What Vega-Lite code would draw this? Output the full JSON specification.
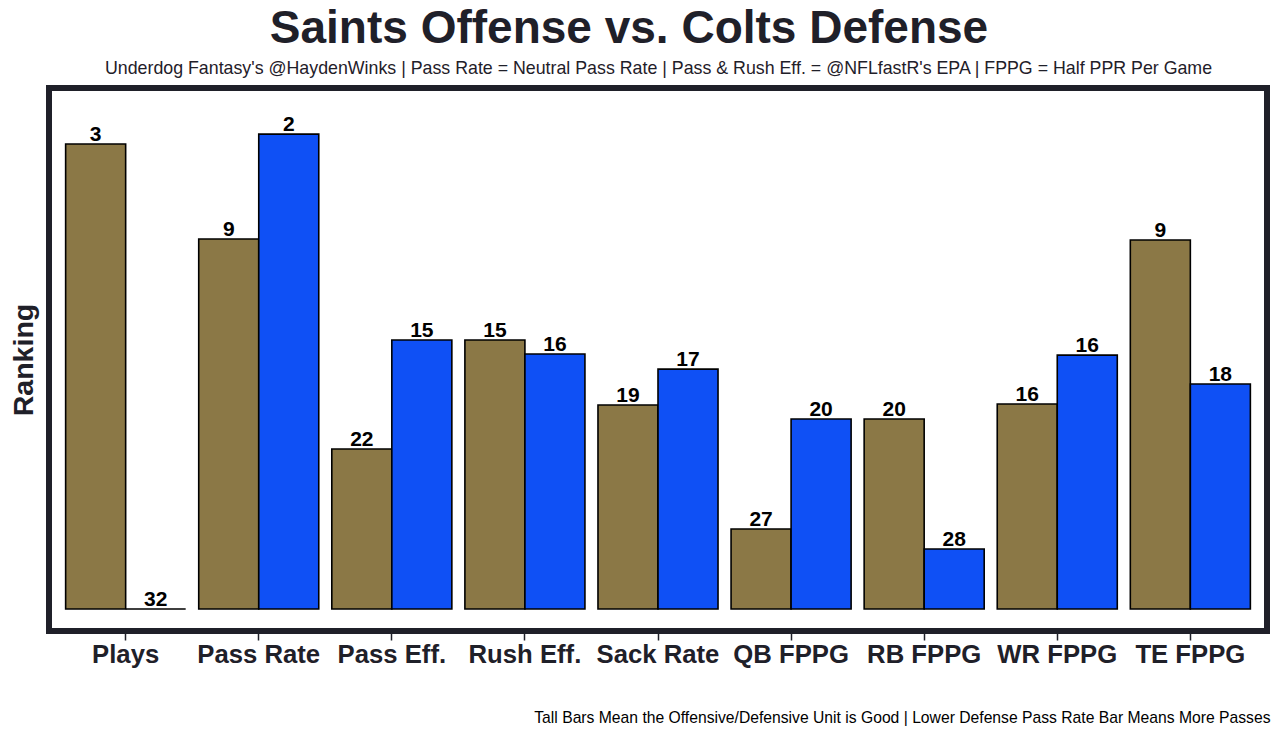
{
  "$schema": "https://vega.github.io/schema/vega-lite/v6.json",
  "width": 1218,
  "height": 543,
  "autosize": {"type": "none"},
  "padding": {"left": 49, "top": 88, "right": 13, "bottom": 102},
  "background": "white",
  "title": {
    "text": "Saints Offense vs. Colts Defense",
    "anchor": "middle",
    "font": "Liberation Sans",
    "fontSize": 46,
    "fontWeight": "bold",
    "color": "#1f2029",
    "dx": -29,
    "offset": 6
  },
  "config": {
    "view": {"stroke": "#1f2029", "strokeWidth": 6},
    "font": "Liberation Sans"
  },
  "data": {
    "values": [
      {"stat": "Plays", "side": "Offense", "value": 29.25, "rank": 3},
      {"stat": "Plays", "side": "Defense", "value": 0, "rank": 32},
      {"stat": "Pass Rate", "side": "Offense", "value": 23.27, "rank": 9},
      {"stat": "Pass Rate", "side": "Defense", "value": 29.87, "rank": 2},
      {"stat": "Pass Eff.", "side": "Offense", "value": 10.06, "rank": 22},
      {"stat": "Pass Eff.", "side": "Defense", "value": 16.92, "rank": 15},
      {"stat": "Rush Eff.", "side": "Offense", "value": 16.92, "rank": 15},
      {"stat": "Rush Eff.", "side": "Defense", "value": 16.04, "rank": 16},
      {"stat": "Sack Rate", "side": "Offense", "value": 12.83, "rank": 19},
      {"stat": "Sack Rate", "side": "Defense", "value": 15.09, "rank": 17},
      {"stat": "QB FPPG", "side": "Offense", "value": 5.03, "rank": 27},
      {"stat": "QB FPPG", "side": "Defense", "value": 11.95, "rank": 20},
      {"stat": "RB FPPG", "side": "Offense", "value": 11.95, "rank": 20},
      {"stat": "RB FPPG", "side": "Defense", "value": 3.77, "rank": 28},
      {"stat": "WR FPPG", "side": "Offense", "value": 12.89, "rank": 16},
      {"stat": "WR FPPG", "side": "Defense", "value": 15.97, "rank": 16},
      {"stat": "TE FPPG", "side": "Offense", "value": 23.21, "rank": 9},
      {"stat": "TE FPPG", "side": "Defense", "value": 14.15, "rank": 18}
    ]
  },
  "encoding": {
    "xOffset": {
      "field": "side",
      "type": "nominal",
      "sort": ["Offense", "Defense"],
      "scale": {"paddingInner": 0, "paddingOuter": 0}
    },
    "y": {
      "field": "value",
      "type": "quantitative",
      "scale": {"domain": [-1.384, 32.77], "nice": false, "zero": false},
      "axis": {
        "title": "Ranking",
        "titleFont": "Liberation Sans",
        "titleFontSize": 28.5,
        "titleFontWeight": "bold",
        "titleColor": "#1f2029",
        "titlePadding": 11,
        "labels": false,
        "ticks": false,
        "domain": false,
        "grid": false
      }
    }
  },
  "resolve": {"axis": {"x": "independent"}},
  "layer": [
    {
      "mark": {"type": "bar", "stroke": "#000000", "strokeWidth": 1.6, "cornerRadius": 0},
      "encoding": {
        "x": {
          "field": "stat",
          "type": "nominal",
          "sort": null,
          "scale": {"paddingInner": 0.098, "paddingOuter": 0.125},
          "axis": {
            "orient": "bottom",
            "title": "Tall Bars Mean the Offensive/Defensive Unit is Good | Lower Defense Pass Rate Bar Means More Passes",
            "titleFont": "Liberation Sans",
            "titleFontSize": 15.7,
            "titleFontWeight": "normal",
            "titleColor": "#000000",
            "titleAnchor": "end",
            "titleAlign": "right",
            "titleBaseline": "alphabetic",
            "titleX": 1221,
            "titleY": 91,
            "labelAngle": 0,
            "labelFont": "Liberation Sans",
            "labelFontSize": 25.7,
            "labelFontWeight": "bold",
            "labelColor": "#1f2029",
            "labelPadding": 2,
            "domain": false,
            "grid": false,
            "ticks": true,
            "tickSize": 9,
            "tickWidth": 1.5,
            "tickColor": "#1f2029"
          }
        },
        "y2": {"datum": 0},
        "color": {
          "field": "side",
          "type": "nominal",
          "scale": {"domain": ["Offense", "Defense"], "range": ["#8b7846", "#0f50f5"]},
          "legend": null
        }
      }
    },
    {
      "mark": {"type": "text", "baseline": "alphabetic", "dy": -3, "fontSize": 21, "fontWeight": "bold", "color": "#000000", "font": "Liberation Sans"},
      "encoding": {
        "x": {
          "field": "stat",
          "type": "nominal",
          "sort": null,
          "axis": {
            "orient": "top",
            "title": "Underdog Fantasy's @HaydenWinks | Pass Rate = Neutral Pass Rate | Pass & Rush Eff. = @NFLfastR's EPA | FPPG = Half PPR Per Game",
            "titleFont": "Liberation Sans",
            "titleFontSize": 17.8,
            "titleFontWeight": "normal",
            "titleColor": "#1f2029",
            "titleAnchor": "middle",
            "titleAlign": "center",
            "titleBaseline": "alphabetic",
            "titleX": 609,
            "titleY": -15,
            "labels": false,
            "ticks": false,
            "domain": false,
            "grid": false
          }
        },
        "text": {"field": "rank", "type": "quantitative"}
      }
    }
  ]
}
